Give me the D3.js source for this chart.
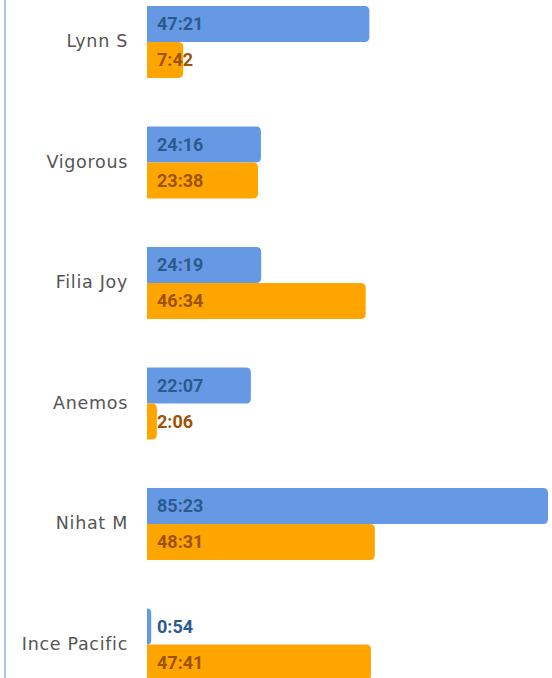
<!DOCTYPE html>
<html>
<head>
<meta charset="utf-8">
<script src="https://cdn.jsdelivr.net/npm/d3@7"></script>
<style>
  html, body { margin: 0; padding: 0; background: #fff; overflow: hidden; }
  svg { display: block; }
</style>
</head>
<body>
<svg id="chart" width="552" height="678"></svg>
<script>
const categories = ["Lynn S", "Vigorous", "Filia Joy", "Anemos", "Nihat M", "Ince Pacific"];
const seriesKeys = ["blue", "orange"];
const blueValues = ["47:21", "24:16", "24:19", "22:07", "85:23", "0:54"];
const orangeValues = ["7:42", "23:38", "46:34", "2:06", "48:31", "47:41"];

const toHours = s => { const [h, m] = s.split(":").map(Number); return h + m / 60; };

const colors = { blue: "#6699e3", orange: "#ffa500" };
const textColors = { blue: "#2b5a8e", orange: "#9c5207" };

const rows = categories.map((c, i) => ({
  category: c,
  bars: [
    { key: "blue", label: blueValues[i], value: toHours(blueValues[i]) },
    { key: "orange", label: orangeValues[i], value: toHours(orangeValues[i]) }
  ]
}));

const svg = d3.select("#chart");
const maxVal = d3.max(rows, r => d3.max(r.bars, b => b.value));

const x = d3.scaleLinear().domain([0, maxVal]).range([147, 548]);
const y = d3.scaleBand().domain(categories).range([-42.5, 729]).padding(0.4025);
const ySub = d3.scaleBand().domain(seriesKeys).range([0, y.bandwidth()]);

// left axis line
svg.append("line")
  .attr("x1", 5).attr("x2", 5).attr("y1", 0).attr("y2", 678)
  .attr("stroke", "#a6c8f7").attr("stroke-width", 2);

function barPath(x0, y0, w, h, r) {
  r = Math.min(r, w, h / 2);
  return `M${x0},${y0}H${x0 + w - r}Q${x0 + w},${y0} ${x0 + w},${y0 + r}V${y0 + h - r}Q${x0 + w},${y0 + h} ${x0 + w - r},${y0 + h}H${x0}Z`;
}

const g = svg.selectAll("g.row").data(rows).join("g")
  .attr("class", "row")
  .attr("transform", d => `translate(0,${y(d.category)})`);

g.selectAll("path.bar").data(d => d.bars).join("path")
  .attr("class", "bar")
  .attr("fill", d => colors[d.key])
  .attr("d", d => barPath(x(0), ySub(d.key), x(d.value) - x(0), ySub.bandwidth(), 5));

g.selectAll("text.val").data(d => d.bars).join("text")
  .attr("class", "val")
  .attr("x", x(0) + 10)
  .attr("y", d => ySub(d.key) + ySub.bandwidth() / 2 + 6.5)
  .attr("fill", d => textColors[d.key])
  .attr("font-family", "Roboto, sans-serif")
  .attr("font-weight", 700)
  .attr("font-size", 18)
  .text(d => d.label);

g.append("text")
  .attr("x", 128)
  .attr("y", y.bandwidth() / 2 - 1)
  .attr("dy", "0.35em")
  .attr("text-anchor", "end")
  .attr("fill", "#555")
  .attr("font-family", "'DejaVu Sans', sans-serif")
  .attr("font-size", 17.5)
  .attr("letter-spacing", 0.7)
  .text(d => d.category);
</script>
</body>
</html>
